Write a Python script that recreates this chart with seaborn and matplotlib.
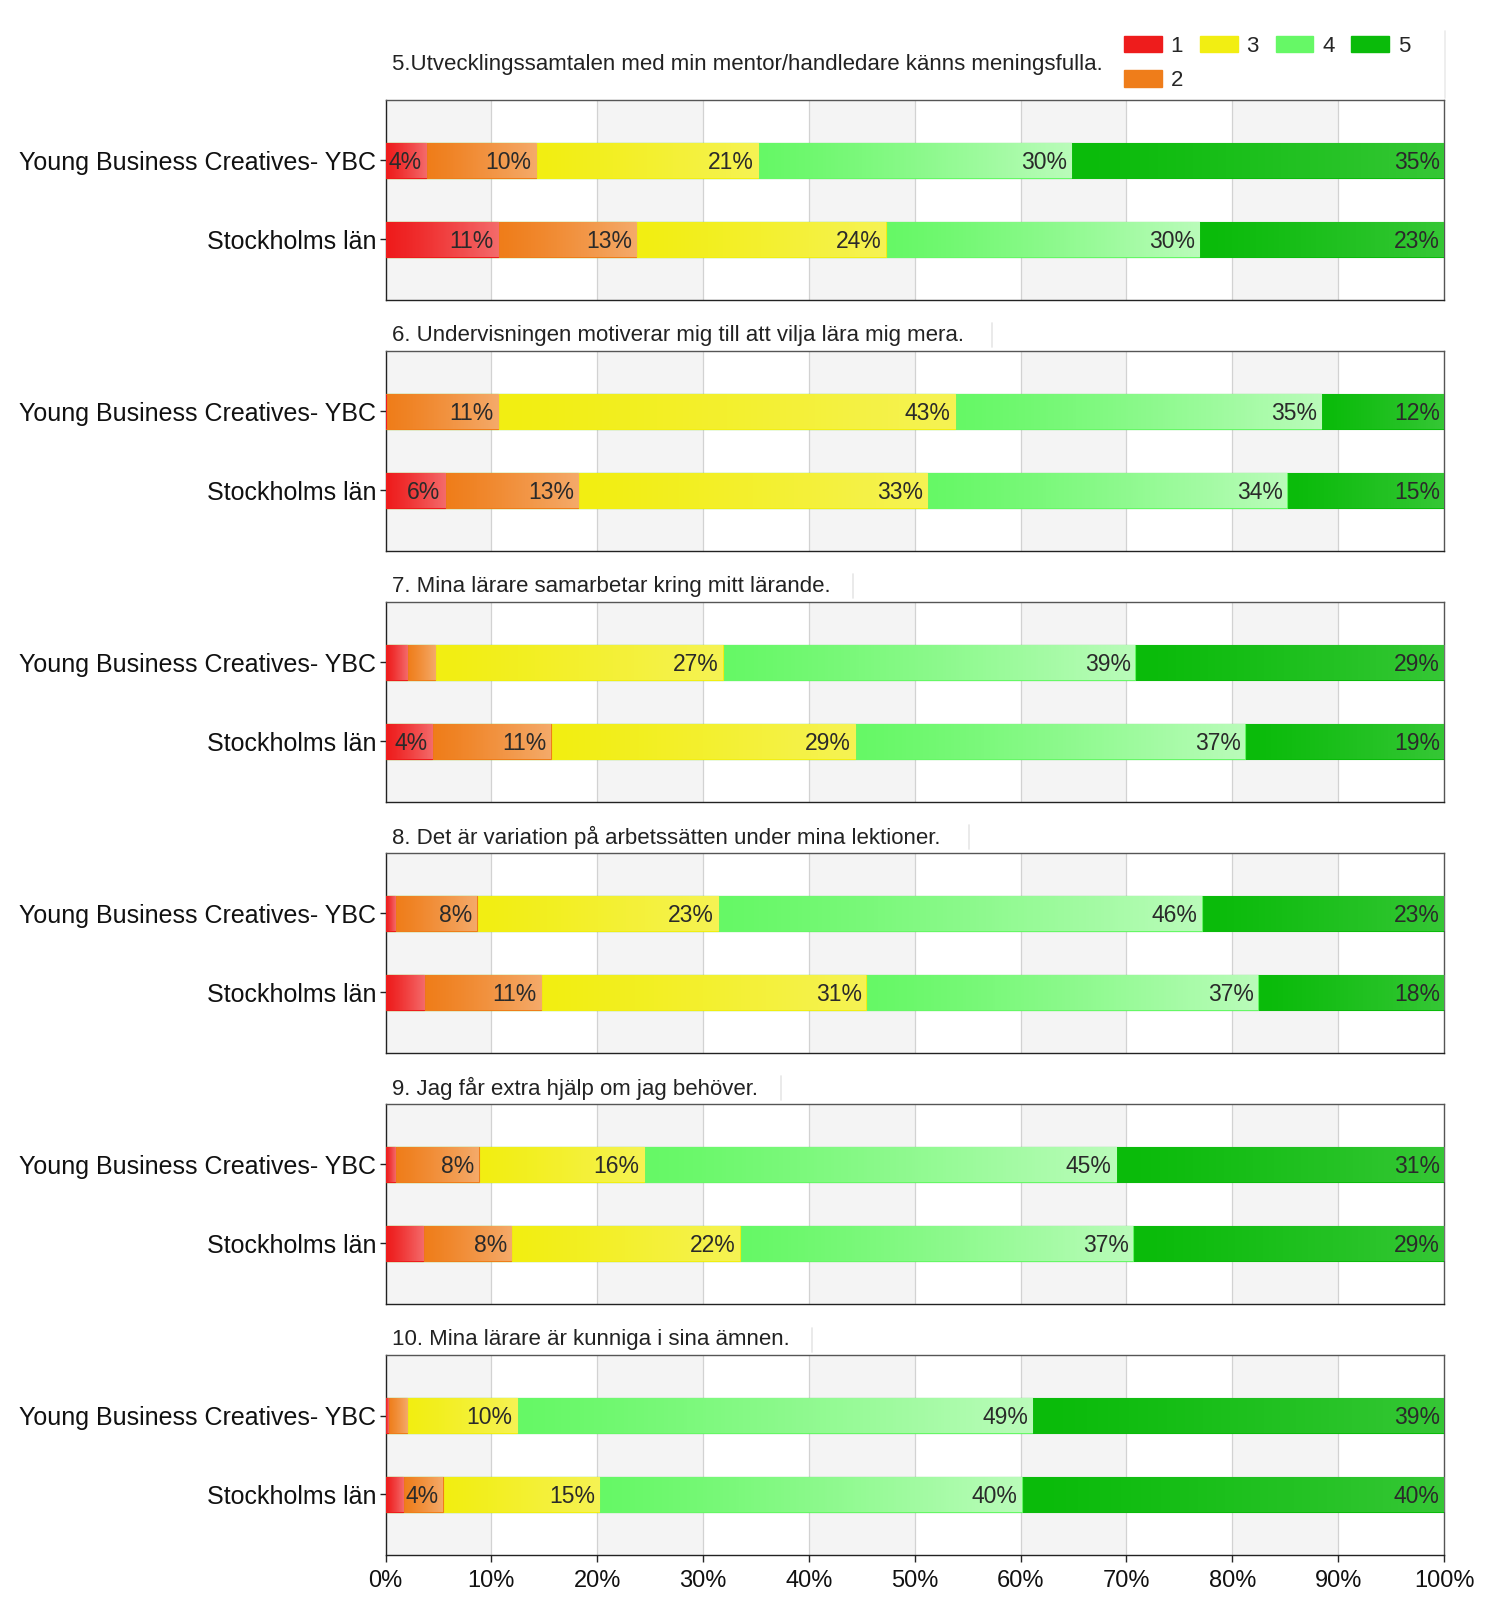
import numpy as np
import matplotlib
matplotlib.use("Agg")
import matplotlib.pyplot as plt
from matplotlib.lines import Line2D
from matplotlib.patches import Patch
import seaborn as sns

sns.set_theme(style="white")
plt.rcParams['font.family'] = ['Liberation Sans', 'DejaVu Sans']

questions = [
    "5.Utvecklingssamtalen med min mentor/handledare känns meningsfulla.",
    "6. Undervisningen motiverar mig till att vilja lära mig mera.",
    "7. Mina lärare samarbetar kring mitt lärande.",
    "8. Det är variation på arbetssätten under mina lektioner.",
    "9. Jag får extra hjälp om jag behöver.",
    "10. Mina lärare är kunniga i sina ämnen.",
]
groups = ["Young Business Creatives- YBC", "Stockholms län"]
levels = ["1", "2", "3", "4", "5"]
level_colors = ["#ee1c1c", "#ef7d1a", "#f2ee12", "#66f866", "#0abb0a"]
xtick_labels = ["0%", "10%", "20%", "30%", "40%", "50%", "60%", "70%", "80%", "90%", "100%"]

# shares (%) per question: [YBC, Stockholms län], each with levels 1..5
q5 = [[3.8, 10.4, 21.0, 29.6, 35.2], [10.6, 13.1, 23.6, 29.6, 23.1]]
q6 = [[0.0, 10.6, 43.2, 34.6, 11.6], [5.6, 12.6, 33.0, 34.0, 14.8]]
q7 = [[2.0, 2.7, 27.2, 38.9, 29.2], [4.4, 11.2, 28.8, 36.8, 18.8]]
q8 = [[0.9, 7.7, 22.8, 45.7, 22.9], [3.6, 11.1, 30.7, 37.0, 17.6]]
q9 = [[0.9, 7.9, 15.6, 44.6, 31.0], [3.5, 8.4, 21.6, 37.1, 29.4]]
q10 = [[0.2, 1.8, 10.4, 48.7, 38.9], [1.7, 3.7, 14.8, 39.9, 39.9]]
all_data = [q5, q6, q7, q8, q9, q10]

W, H = 1500, 1612
fig = plt.figure(figsize=(W / 100, H / 100), dpi=100)

left_px, right_px = 385.5, 1444.0
top0, step, ph = 99.7, 251.06, 200.0
bar_h = 0.44
gloss = [0.35, 0.35, 0.28, 0.55, 0.18]

# white gradient for gloss
ramp = np.linspace(0, 1, 200) ** 1.2
sep_x = [1445, 992, 853, 968.5, 781, 812]

for qi, (title, data) in enumerate(zip(questions, all_data)):
    top = top0 + qi * step
    ax = fig.add_axes([left_px / W, 1 - (top + ph) / H, (right_px - left_px) / W, ph / H])
    # alternating background bands
    for b in range(0, 100, 20):
        ax.axvspan(b, b + 10, color="#f4f4f4", zorder=0, lw=0)
    for g in range(10, 100, 10):
        ax.axvline(g, color="#d2d2d2", lw=0.9, zorder=0.5)

    arr = np.array(data)
    cum = np.cumsum(arr, axis=1)
    for k in reversed(range(5)):
        n0 = len(ax.patches)
        sns.barplot(x=cum[:, k], y=groups, orient="h", color=level_colors[k],
                    saturation=1, width=bar_h, errorbar=None, ax=ax,
                    edgecolor=level_colors[k], linewidth=0.8)
        for p in ax.patches[n0:]:
            p.set_zorder(10 - k)
    # gloss overlay and labels
    for gi in range(2):
        for k in range(5):
            v = arr[gi, k]
            if v <= 0:
                continue
            x0 = cum[gi, k] - v
            x1 = cum[gi, k]
            img = np.zeros((1, 200, 4))
            img[..., :3] = 1.0
            img[0, :, 3] = ramp * gloss[k]
            ax.imshow(img, extent=[x0, x1, gi + bar_h / 2, gi - bar_h / 2],
                      aspect="auto", zorder=10 - k + 0.5, interpolation="bilinear")
            if v >= 3.65:
                ax.text(x1 - 0.4, gi + 0.03, f"{v:.0f}%", ha="right", va="center",
                        fontsize=16.5, color="#2a2a2a", zorder=20)

    ax.set_xlim(0, 100)
    ax.set_ylim(1 + 0.766, -0.766)
    ax.set_ylabel("")
    ax.set_xlabel("")
    ax.tick_params(axis="y", which="both", left=True, length=4, width=1,
                   labelsize=18, pad=2.5, colors="#222222")
    ax.set_yticks([0, 1])
    ax.set_yticklabels(groups, color="#111111")
    ax.set_xticks(np.arange(0, 101, 10))
    if qi == 5:
        ax.set_xticklabels(xtick_labels, fontsize=17, color="#111111")
        ax.tick_params(axis="x", bottom=True, length=5, width=1, pad=6)
    else:
        ax.set_xticklabels([])
        ax.tick_params(axis="x", bottom=False)
    for s in ax.spines.values():
        s.set_color("#555555")
        s.set_linewidth(1.0)
        s.set_visible(True)
    ax.spines["left"].set_color("#222222")
    ax.spines["bottom"].set_color("#222222")

    # question title
    ty = top - (35 if qi == 0 else 15.5)
    fig.text(391.5 / W, 1 - ty / H, title, ha="left", va="center",
             fontsize=16, color="#222222")
    # faint separator
    if qi == 0:
        fig.add_artist(Line2D([sep_x[0] / W] * 2, [1 - 31 / H, 1 - 98 / H],
                              color="#ebebeb", lw=1.2))
    else:
        fig.add_artist(Line2D([sep_x[qi] / W] * 2, [1 - (ty - 12) / H, 1 - (ty + 12) / H],
                              color="#e6e6e6", lw=1.2))

handles = [Patch(facecolor=c, edgecolor=c, label=l) for c, l in zip(level_colors, levels)]
fig.legend(handles=handles, loc="upper left", bbox_to_anchor=(1124 / W, 1 - 36 / H),
           ncol=4, frameon=False, fontsize=16, handlelength=1.7, handleheight=0.75,
           handletextpad=0.4, columnspacing=0.75, labelspacing=0.6, borderaxespad=0,
           borderpad=0)

fig.savefig("out.png", dpi=100)
